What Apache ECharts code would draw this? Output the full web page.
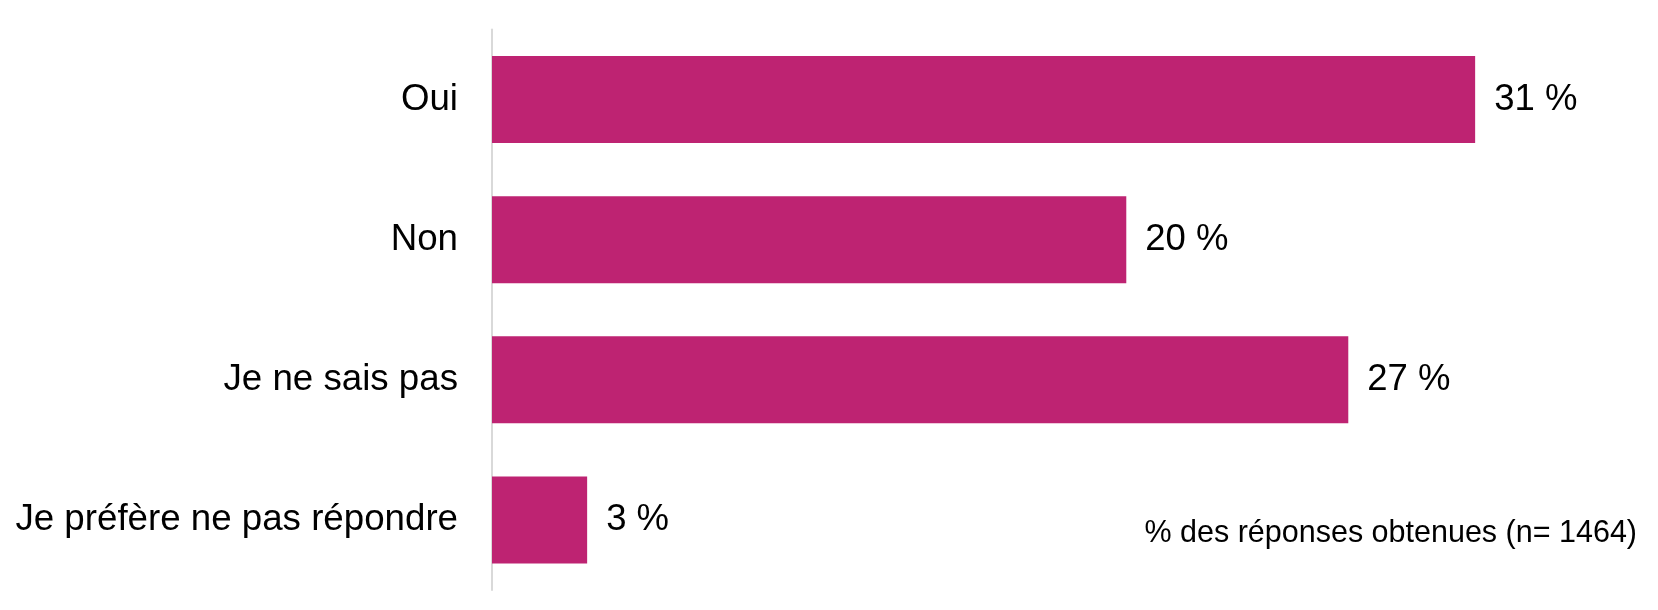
<!DOCTYPE html>
<html>
<head>
<meta charset="utf-8">
<script src="https://cdn.jsdelivr.net/npm/echarts@6/dist/echarts.min.js"></script>
<style>
  html, body { margin: 0; padding: 0; background: #ffffff; }
  #chart { width: 1658px; height: 610px; }
</style>
</head>
<body>
<div id="chart"></div>
<script>
const categories = ["Oui", "Non", "Je ne sais pas", "Je préfère ne pas répondre"];
const values = [31, 20, 27, 3];
const footnote = "% des réponses obtenues (n= 1464)";

const chart = echarts.init(document.getElementById('chart'), null, { renderer: 'canvas' });
const FONT = '"Liberation Sans", Arial, Helvetica, sans-serif';

chart.setOption({
  animation: false,
  backgroundColor: '#ffffff',
  grid: { left: 492, top: 29.5, height: 560.5, right: 56, containLabel: false },
  xAxis: {
    type: 'value',
    min: 0,
    max: 35,
    show: false
  },
  yAxis: {
    type: 'category',
    data: categories,
    inverse: true,
    axisLine: { show: true, lineStyle: { color: '#d9d9d9', width: 2 } },
    axisTick: { show: false },
    axisLabel: {
      color: '#000000',
      fontFamily: FONT,
      fontSize: 36.7,
      margin: 34
    },
    splitLine: { show: false }
  },
  series: [{
    type: 'bar',
    data: values,
    barWidth: 87,
    itemStyle: { color: '#BE2372' },
    label: {
      show: true,
      position: 'right',
      distance: 19,
      formatter: '{c} %',
      color: '#000000',
      fontFamily: FONT,
      fontSize: 36.5
    }
  }],
  graphic: [{
    type: 'text',
    right: 21,
    top: 518,
    style: {
      text: footnote,
      fill: '#000000',
      font: '30.5px ' + FONT
    }
  }]
});
</script>
</body>
</html>
